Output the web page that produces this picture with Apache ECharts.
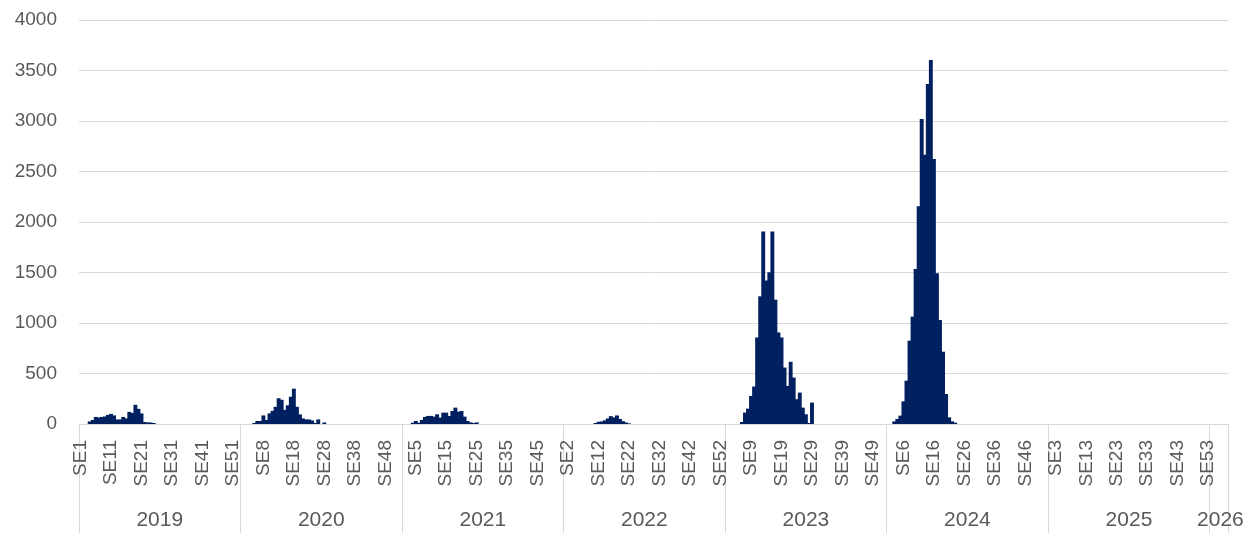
<!DOCTYPE html>
<html>
<head>
<meta charset="utf-8">
<script src="https://cdn.jsdelivr.net/npm/echarts@6/dist/echarts.min.js"></script>
<style>
  html, body { margin: 0; padding: 0; background: #ffffff; }
  #chart { width: 1255px; height: 533px; }
</style>
</head>
<body>
<div id="chart"></div>
<script>
// ---- Data ----
const years = [2019, 2020, 2021, 2022, 2023, 2024, 2025, 2026];
const weeksPerYear = [53, 53, 53, 53, 53, 53, 53, 6];

const cases2019 = [0,0,0,25,40,70,65,70,75,90,100,85,45,45,70,55,120,110,190,150,105,20,15,15,10,0,0,0,0,0,0,0,0,0,0,0,0,0,0,0,0,0,0,0,0,0,0,0,0,0,0,0,0];
const cases2020 = [0,0,0,0,10,30,30,85,40,105,130,170,255,240,140,185,270,350,170,95,55,45,45,35,10,45,0,15,0,0,0,0,0,0,0,0,0,0,0,0,0,0,0,0,0,0,0,0,0,0,0,0,0];
const cases2021 = [0,0,0,13,30,13,40,70,80,80,73,96,63,112,112,79,129,162,122,129,73,30,16,10,16,0,0,0,0,0,0,0,0,0,0,0,0,0,0,0,0,0,0,0,0,0,0,0,0,0,0,0,0];
const cases2022 = [0,0,0,0,0,0,0,0,0,0,10,22,25,36,55,78,65,85,50,28,15,6,0,0,0,0,0,0,0,0,0,0,0,0,0,0,0,0,0,0,0,0,0,0,0,0,0,0,0,0,0,0,0];
const cases2023 = [0,0,0,0,0,20,113,152,278,371,857,1264,1907,1420,1503,1907,1231,907,857,559,377,616,460,245,311,162,96,10,212,0,0,0,0,0,0,0,0,0,0,0,0,0,0,0,0,0,0,0,0,0,0,0,0];
const cases2024 = [0,0,26,50,83,224,429,825,1063,1535,2155,3020,2666,3366,3604,2624,1492,1030,716,297,66,26,13,0,0,0,0,0,0,0,0,0,0,0,0,0,0,0,0,0,0,0,0,0,0,0,0,0,0,0,0,0,0];
const cases2025 = [0,0,0,0,0,0,0,0,0,0,0,0,0,0,0,0,0,0,0,0,0,0,0,0,0,0,0,0,0,0,0,0,0,0,0,0,0,0,0,0,0,0,0,0,0,0,0,0,0,0,0,0,0];
const cases2026 = [0,0,0,0,0,0];

const yTicks = { min: 0, max: 4000, interval: 500 };

// ---- Build categories ----
const casesByYear = [cases2019, cases2020, cases2021, cases2022, cases2023, cases2024, cases2025, cases2026];
const categories = [];
const values = [];
const yearStart = new Set();
const yearMid = {};
let idx = 0;
years.forEach((y, k) => {
  yearStart.add(idx);
  yearMid[idx + Math.floor(weeksPerYear[k] / 2)] = String(y);
  for (let w = 1; w <= weeksPerYear[k]; w++) {
    categories.push(y + '-SE' + w);
    values.push(casesByYear[k][w - 1]);
    idx++;
  }
});

const FONT = '"Liberation Sans", Arial, sans-serif';
const GRAY = '#595959';
const LINE = '#d9d9d9';
const BAR = '#002060';

const chart = echarts.init(document.getElementById('chart'), null, { renderer: 'canvas' });
chart.setOption({
  animation: false,
  backgroundColor: '#ffffff',
  grid: { left: 79, right: 27, top: 20, bottom: 109, containLabel: false, outerBoundsMode: 'none' },
  xAxis: [
    {
      type: 'category',
      position: 'bottom',
      data: categories,
      boundaryGap: true,
      axisLine: { show: true, lineStyle: { color: LINE, width: 1 } },
      axisTick: {
        show: true,
        length: 112,
        interval: (i) => yearStart.has(i),
        lineStyle: { color: LINE, width: 1 }
      },
      axisLabel: {
        interval: 9,
        rotate: 90,
        margin: 16,
        color: GRAY,
        fontSize: 19,
        fontFamily: FONT,
        formatter: (v) => v.split('-')[1]
      },
      splitLine: { show: false }
    },
    {
      type: 'category',
      position: 'bottom',
      data: categories,
      boundaryGap: true,
      axisLine: { show: false },
      axisTick: { show: false },
      axisLabel: {
        interval: (i) => yearMid[i] !== undefined,
        margin: 86,
        color: GRAY,
        fontSize: 21,
        fontFamily: FONT,
        formatter: (v, i) => yearMid[i] || ''
      },
      splitLine: { show: false }
    }
  ],
  yAxis: {
    type: 'value',
    min: yTicks.min,
    max: yTicks.max,
    interval: yTicks.interval,
    axisLine: { show: false },
    axisTick: { show: false },
    axisLabel: { color: GRAY, fontSize: 19, fontFamily: FONT, margin: 22, formatter: (v) => String(v) },
    splitLine: { show: true, lineStyle: { color: LINE, width: 1 } }
  },
  series: [
    {
      type: 'bar',
      xAxisIndex: 0,
      data: values,
      barWidth: 3.9,
      itemStyle: { color: BAR }
    }
  ]
});
</script>
</body>
</html>
